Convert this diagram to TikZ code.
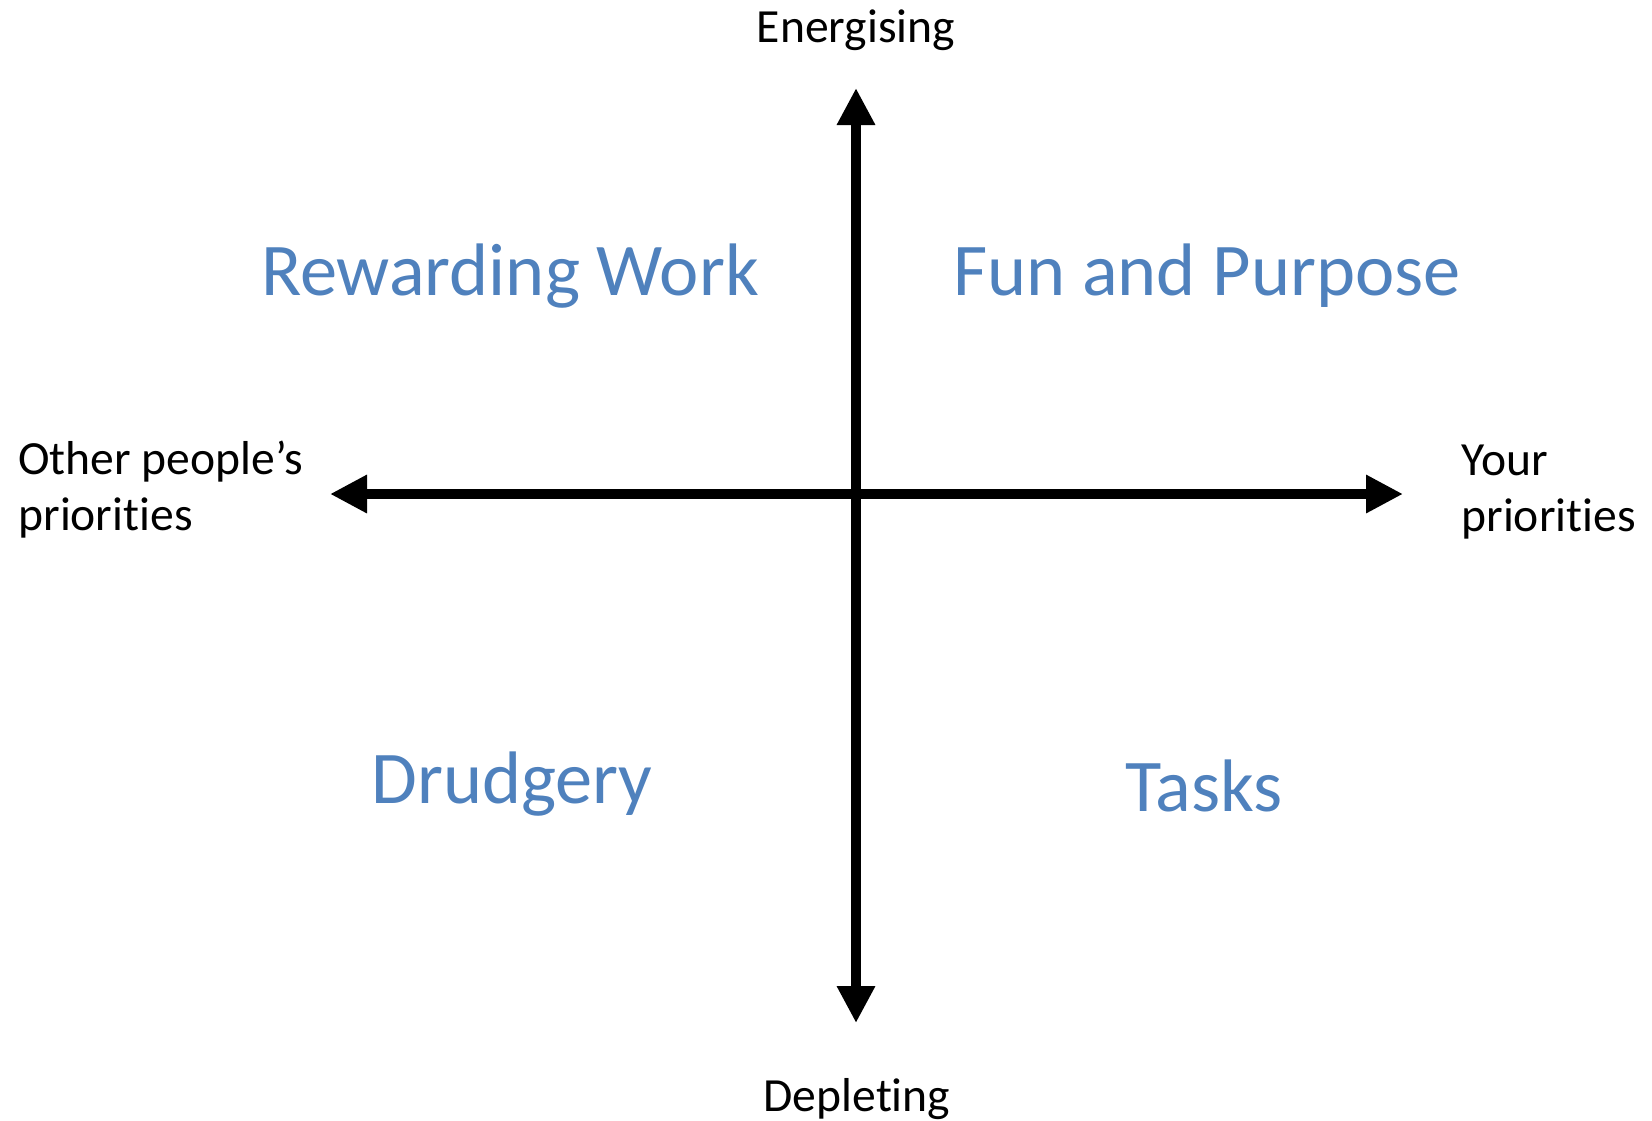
\documentclass[tikz,border=0pt]{standalone}
\usepackage{fontspec}
\setmainfont{Carlito}[RawFeature=-liga]
\usepackage{xcolor}
\usepackage{tikz}
\usetikzlibrary{arrows.meta,positioning}

\definecolor{quadblue}{RGB}{79,129,189}

\begin{document}
\begin{tikzpicture}[x=0.5pt, y=-0.5pt]
    % Define styles
    \tikzstyle{axis} = [line width=5.25pt, {Triangle[length=18.5pt, width=18pt]}-{Triangle[length=18.5pt, width=18pt]}]
    \tikzstyle{pole} = [inner sep=0pt, font=\fontsize{23.8}{28}\selectfont, align=left]
    \tikzstyle{quadrant} = [inner sep=0pt, text=quadblue, font=\fontsize{37.2}{44}\selectfont]

    \useasboundingbox (0,0) rectangle (1652,1120);

    % Axis end points
    \coordinate (top) at (856,88);
    \coordinate (bottom) at (856,1023);
    \coordinate (left) at (330,494);
    \coordinate (right) at (1403,494);

    % Nodes
    \node[pole, anchor=base] (energising) at (856,42) {Energising};
    \node[pole, anchor=base] (depleting) at (857,1111) {Depleting};
    \node[pole, anchor=west] (others) at (18,490) {Other people’s\\priorities};
    \node[pole, anchor=west] (yours) at (1461,492) {Your\\priorities};

    \node[quadrant, anchor=base] (rewarding) at (510,295) {Rewarding Work};
    \node[quadrant, anchor=base] (fun) at (1207,295) {Fun and Purpose};
    \node[quadrant, anchor=base] (drudgery) at (512,803) {Drudgery};
    \node[quadrant, anchor=base] (tasks) at (1204,811) {Tasks};

    % Connections
    \draw[axis] (bottom) -- (top);
    \draw[axis] (left) -- (right);
\end{tikzpicture}
\end{document}
